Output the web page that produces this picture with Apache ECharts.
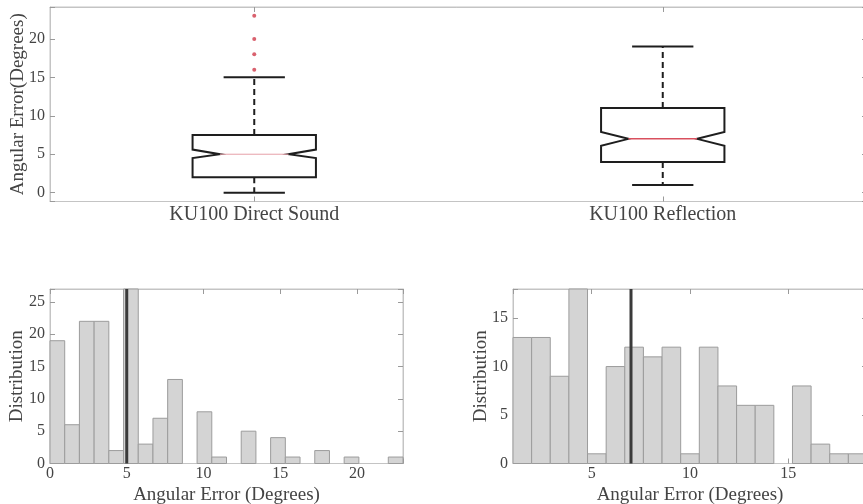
<!DOCTYPE html>
<html><head><meta charset="utf-8">
<script src="https://cdn.jsdelivr.net/npm/echarts@6/dist/echarts.min.js"></script>
<style>html,body{margin:0;padding:0;background:#fff}#c{width:863px;height:504px}</style>
</head><body><div id="c"></div>
<script>
// ---- Data ----
const boxCategories = ['KU100 Direct Sound', 'KU100 Reflection'];
const boxWhiskerLow = [0, 1];
const boxQ1 = [2, 4];
const boxMedian = [5, 7];
const boxQ3 = [7.5, 11];
const boxWhiskerHigh = [15, 19];
const boxNotchLow = [4.5, 6.1];
const boxNotchHigh = [5.6, 7.9];
const outliersDirect = [16, 18, 20, 23];
const boxYRange = [-1.15, 24.15];

const histDirectCounts = [19, 6, 22, 22, 2, 27, 3, 7, 13, 0, 8, 1, 0, 5, 0, 4, 1, 0, 2, 0, 1, 0, 0, 1];
const histDirectXRange = [0, 23];
const histDirectYRange = [0, 27];
const histDirectMedian = 5;

const histReflCounts = [13, 13, 9, 18, 1, 10, 12, 11, 12, 1, 12, 8, 6, 6, 0, 8, 2, 1, 1];
const histReflXRange = [1, 19];
const histReflYRange = [0, 18];
const histReflMedian = 7;

const tickStep = 5;

// ---- Styling helpers ----
const FONT = 'Liberation Serif';
const TXT = '#444';
const FRAME = '#c4c4c4';
const TICK = '#9a9a9a';

function multFmt(v) {
  const r = Math.round(v / tickStep) * tickStep;
  return Math.abs(v - r) < 1e-6 ? String(r) : '';
}
function valAxis(gridIndex, range, opts) {
  return Object.assign({
    type: 'value', gridIndex: gridIndex, min: range[0], max: range[1],
    minInterval: tickStep, maxInterval: tickStep,
    axisLine: { show: true, onZero: false, lineStyle: { color: FRAME, width: 1 } },
    axisTick: { show: true, inside: true, length: 5, lineStyle: { color: TICK } },
    splitLine: { show: false },
    axisLabel: { show: true, formatter: multFmt, color: TXT, fontFamily: FONT, fontSize: 16, margin: 5 },
    nameMoveOverlap: false,
    nameTextStyle: { color: TXT, fontFamily: FONT, fontSize: 19 }
  }, opts || {});
}
function hiddenVal(gridIndex, range, position) {
  return valAxis(gridIndex, range, { position: position, axisLabel: { show: false } });
}

// ---- Build data ----
const boxData = boxCategories.map((c, i) => [i, boxWhiskerLow[i], boxQ1[i], boxMedian[i], boxQ3[i], boxWhiskerHigh[i], boxNotchLow[i], boxNotchHigh[i]]);
const outlierData = outliersDirect.map(v => [0, v]);

function binData(counts, range) {
  const w = (range[1] - range[0]) / counts.length;
  const out = [];
  counts.forEach((c, i) => { if (c > 0) out.push([range[0] + i * w, range[0] + (i + 1) * w, c]); });
  return out;
}

function renderBox(params, api) {
  const i = api.value(0);
  const band = api.size([1, 0])[0];
  const xc = api.coord([i, api.value(3)])[0];
  const y = k => api.coord([i, api.value(k)])[1];
  const yWl = y(1), yQ1 = y(2), yMed = y(3), yQ3 = y(4), yWh = y(5), yNl = y(6), yNh = y(7);
  const hb = band * 0.151, hn = band * 0.084, hc = band * 0.075;
  const dark = '#1e1e1e';
  const dashStyle = { stroke: dark, lineWidth: 2, lineDash: [6, 4] };
  const solid = { stroke: dark, lineWidth: 2 };
  return {
    type: 'group', children: [
      { type: 'line', shape: { x1: xc, y1: yQ3, x2: xc, y2: yWh }, style: dashStyle },
      { type: 'line', shape: { x1: xc, y1: yQ1, x2: xc, y2: yWl }, style: dashStyle },
      { type: 'line', shape: { x1: xc - hc, y1: yWh, x2: xc + hc, y2: yWh }, style: solid },
      { type: 'line', shape: { x1: xc - hc, y1: yWl, x2: xc + hc, y2: yWl }, style: solid },
      { type: 'polygon', shape: { points: [
        [xc - hb, yQ3], [xc + hb, yQ3], [xc + hb, yNh], [xc + hn, yMed], [xc + hb, yNl],
        [xc + hb, yQ1], [xc - hb, yQ1], [xc - hb, yNl], [xc - hn, yMed], [xc - hb, yNh]
      ] }, style: { fill: '#fff', stroke: dark, lineWidth: 2 } },
      { type: 'line', shape: { x1: xc - hn, y1: yMed, x2: xc + hn, y2: yMed },
        style: { stroke: i === 0 ? '#e7a0a8' : '#d9505e', lineWidth: i === 0 ? 1 : 1.5 } }
    ]
  };
}
function renderBin(params, api) {
  const a = api.coord([api.value(0), api.value(2)]);
  const b = api.coord([api.value(1), 0]);
  return { type: 'rect', shape: { x: a[0], y: a[1], width: b[0] - a[0], height: b[1] - a[1] },
    style: { fill: '#d4d4d4', stroke: '#9c9c9c', lineWidth: 1 } };
}

const chart = echarts.init(document.getElementById('c'), null, { renderer: 'canvas' });
const catAxisBase = {
  type: 'category', gridIndex: 0, data: boxCategories, boundaryGap: true,
  axisLine: { show: true, onZero: false, lineStyle: { color: FRAME } },
  axisTick: { show: true, inside: true, alignWithLabel: true, length: 5, lineStyle: { color: TICK } },
  splitLine: { show: false }
};
const gridBase = { show: true, borderColor: FRAME, borderWidth: 1, containLabel: false, outerBoundsMode: 'none' };

chart.setOption({
  animation: false,
  backgroundColor: '#fff',
  grid: [
    Object.assign({ left: 50, top: 7, width: 817, height: 194.5 }, gridBase),
    Object.assign({ left: 50, top: 289, width: 353, height: 174.5 }, gridBase),
    Object.assign({ left: 513, top: 289, width: 354, height: 174.5 }, gridBase)
  ],
  xAxis: [
    Object.assign({}, catAxisBase, { position: 'bottom',
      axisLabel: { color: TXT, fontFamily: FONT, fontSize: 20, margin: 3 } }),
    Object.assign({}, catAxisBase, { position: 'top', axisLabel: { show: false } }),
    valAxis(1, histDirectXRange, { position: 'bottom', name: 'Angular Error (Degrees)', nameLocation: 'middle', nameGap: 22,
      axisLabel: { formatter: multFmt, color: TXT, fontFamily: FONT, fontSize: 16, margin: 2 } }),
    hiddenVal(1, histDirectXRange, 'top'),
    valAxis(2, histReflXRange, { position: 'bottom', name: 'Angular Error (Degrees)', nameLocation: 'middle', nameGap: 22,
      axisLabel: { formatter: multFmt, color: TXT, fontFamily: FONT, fontSize: 16, margin: 2 } }),
    hiddenVal(2, histReflXRange, 'top')
  ],
  yAxis: [
    valAxis(0, boxYRange, { position: 'left', name: 'Angular Error(Degrees)', nameLocation: 'middle', nameGap: 22 }),
    hiddenVal(0, boxYRange, 'right'),
    valAxis(1, histDirectYRange, { position: 'left', name: 'Distribution', nameLocation: 'middle', nameGap: 23 }),
    hiddenVal(1, histDirectYRange, 'right'),
    valAxis(2, histReflYRange, { position: 'left', name: 'Distribution', nameLocation: 'middle', nameGap: 22 }),
    hiddenVal(2, histReflYRange, 'right')
  ],
  series: [
    { type: 'custom', xAxisIndex: 0, yAxisIndex: 0, data: boxData, renderItem: renderBox,
      encode: { x: 0, y: [1, 2, 3, 4, 5] }, silent: true, z: 3 },
    { type: 'scatter', xAxisIndex: 0, yAxisIndex: 0, data: outlierData, symbol: 'circle', symbolSize: 4,
      itemStyle: { color: '#d03a4a' }, silent: true, z: 4 },
    { type: 'custom', xAxisIndex: 2, yAxisIndex: 2, data: binData(histDirectCounts, histDirectXRange), renderItem: renderBin,
      encode: { x: [0, 1], y: 2 }, silent: true, z: 2 },
    { type: 'line', xAxisIndex: 2, yAxisIndex: 2, data: [[histDirectMedian, histDirectYRange[0]], [histDirectMedian, histDirectYRange[1]]],
      symbol: 'none', lineStyle: { color: '#3a3a3a', width: 3 }, silent: true, z: 4 },
    { type: 'custom', xAxisIndex: 4, yAxisIndex: 4, data: binData(histReflCounts, histReflXRange), renderItem: renderBin,
      encode: { x: [0, 1], y: 2 }, silent: true, z: 2 },
    { type: 'line', xAxisIndex: 4, yAxisIndex: 4, data: [[histReflMedian, histReflYRange[0]], [histReflMedian, histReflYRange[1]]],
      symbol: 'none', lineStyle: { color: '#3a3a3a', width: 3 }, silent: true, z: 4 }
  ]
});
</script>
</body></html>
